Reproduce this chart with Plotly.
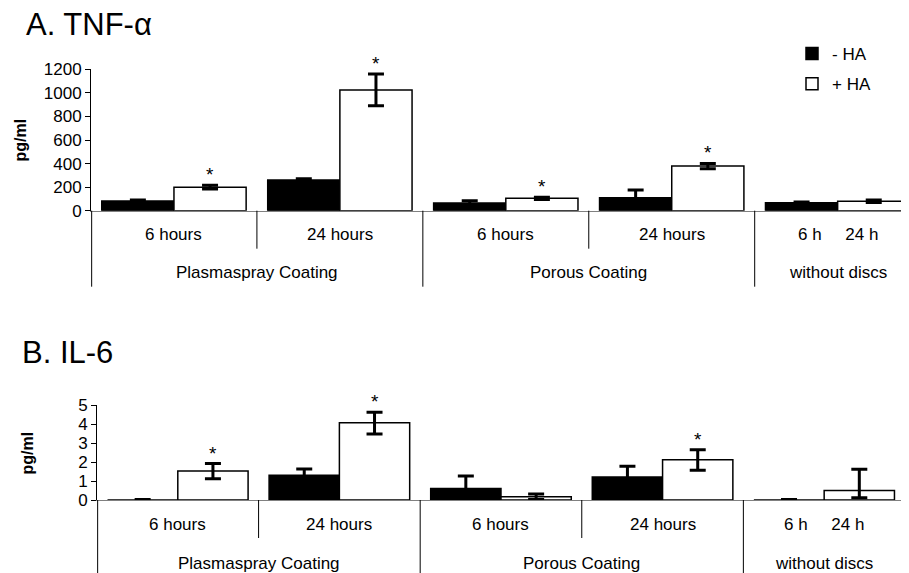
import plotly.graph_objects as go

# ---------------- data ----------------
groups = ["Plasmaspray Coating", "Plasmaspray Coating", "Porous Coating", "Porous Coating", "without discs"]
inner_labels = ["6 hours", "24 hours", "6 hours", "24 hours", "6 h\u00a0\u00a0\u00a0\u00a0\u00a024 h"]

tnf_minus = [82, 260, 65, 110, 68]
tnf_minus_err = [8, 12, 20, 66, 5]
tnf_plus = [200, 1025, 105, 379, 80]
tnf_plus_err = [16, 135, 10, 22, 10]
tnf_sig = [True, True, True, True, False]

il6_minus = [0, 1.3, 0.61, 1.21, 0]
il6_minus_err = [0.02, 0.33, 0.65, 0.56, 0.02]
il6_plus = [1.52, 4.07, 0.17, 2.12, 0.5]
il6_plus_err = [0.4, 0.55, 0.15, 0.52, 1.12]
il6_plus_err_minus = [0.4, 0.6, 0.15, 0.55, 0.38]
il6_sig = [True, True, False, True, False]

tnf_ticks = [0, 200, 400, 600, 800, 1000, 1200]
il6_ticks = [0, 1, 2, 3, 4, 5]

series_names = ["- HA", "+ HA"]
# ---------------------------------------

FONT = "Liberation Sans, Arial, sans-serif"
WIN_W, WIN_H = 909, 573
PAGE_OFF = 8                      # default body margin of the html page
W, H = WIN_W - PAGE_OFF, WIN_H - PAGE_OFF
BARGAP = 0.13
xs = list(range(len(groups)))


def px(x):   # window pixel -> paper x
    return (x - PAGE_OFF) / W


def py(y):   # window pixel -> paper y
    return 1 - (y - PAGE_OFF) / H


fig = go.Figure()


def add_panel(xa, ya, minus, minus_err, plus, plus_err, plus_err_minus, showlegend):
    fig.add_trace(go.Bar(
        x=xs, y=minus, name=series_names[0], xaxis=xa, yaxis=ya,
        marker=dict(color="black", line=dict(color="black", width=1.5)),
        error_y=dict(type="data", array=minus_err, color="black", thickness=3, width=8),
        showlegend=showlegend, legendgroup="m",
    ))
    fig.add_trace(go.Bar(
        x=xs, y=plus, name=series_names[1], xaxis=xa, yaxis=ya,
        marker=dict(color="white", line=dict(color="black", width=1.5)),
        error_y=dict(type="data", array=plus_err, arrayminus=plus_err_minus,
                     color="black", thickness=3, width=8),
        showlegend=showlegend, legendgroup="p",
    ))


add_panel("x", "y", tnf_minus, tnf_minus_err, tnf_plus, tnf_plus_err, tnf_plus_err, True)
add_panel("x2", "y2", il6_minus, il6_minus_err, il6_plus, il6_plus_err, il6_plus_err_minus, False)

annotations = []
shapes = []


def category_decor(xref, yref_dom, outer_len, inner_len, outer_label_shift):
    for i, lab in enumerate(inner_labels):
        annotations.append(dict(x=i, y=0, xref=xref, yref=yref_dom, yshift=-24,
                                text=lab, showarrow=False, xanchor="center", yanchor="middle",
                                font=dict(family=FONT, size=17, color="black")))
    spans = []
    start = 0
    for i in range(1, len(groups) + 1):
        if i == len(groups) or groups[i] != groups[start]:
            spans.append((groups[start], start, i - 1))
            start = i
    for name, s, e in spans:
        annotations.append(dict(x=(s + e) / 2, y=0, xref=xref, yref=yref_dom,
                                yshift=-outer_label_shift, text=name, showarrow=False,
                                xanchor="center", yanchor="middle",
                                font=dict(family=FONT, size=17, color="black")))
        for b in range(s, e):
            shapes.append(dict(type="line", xref=xref, yref=yref_dom, ysizemode="pixel",
                               yanchor=0, x0=b + 0.5, x1=b + 0.5, y0=0, y1=-inner_len,
                               line=dict(color="black", width=1)))
    bounds = [s - 0.5 for _, s, _ in spans] + [spans[-1][2] + 0.5]
    for k, bx in enumerate(bounds):
        if k == 0:
            bx += 0.004
        if k == len(bounds) - 1:
            bx -= 0.004
        shapes.append(dict(type="line", xref=xref, yref=yref_dom, ysizemode="pixel",
                           yanchor=0, x0=bx, x1=bx, y0=0, y1=-outer_len,
                           line=dict(color="black", width=1)))


category_decor("x", "y domain", 76, 38, 62)
category_decor("x2", "y2 domain", 80, 38, 63)

off = (1 - BARGAP) / 4
for xref, yref, vals, errs, sig in [("x", "y", tnf_plus, tnf_plus_err, tnf_sig),
                                     ("x2", "y2", il6_plus, il6_plus_err, il6_sig)]:
    for i, (v, e, s) in enumerate(zip(vals, errs, sig)):
        if s:
            annotations.append(dict(x=i + off, y=v + e, xref=xref, yref=yref,
                                    text="*", showarrow=False, xanchor="center",
                                    yanchor="bottom", yshift=-2,
                                    font=dict(family=FONT, size=19, color="black")))

annotations.append(dict(x=px(24), y=py(25), xref="paper", yref="paper", text="A. TNF-\u03b1",
                        showarrow=False, xanchor="left", yanchor="middle",
                        font=dict(family=FONT, size=31, color="black")))
annotations.append(dict(x=px(20), y=py(352), xref="paper", yref="paper", text="B. IL-6",
                        showarrow=False, xanchor="left", yanchor="middle",
                        font=dict(family=FONT, size=31, color="black")))
annotations.append(dict(x=px(19.5), y=py(140), xref="paper", yref="paper", text="<b>pg/ml</b>",
                        showarrow=False, textangle=-90, xanchor="center", yanchor="middle",
                        font=dict(family=FONT, size=16, color="black")))
annotations.append(dict(x=px(26.5), y=py(453), xref="paper", yref="paper", text="<b>pg/ml</b>",
                        showarrow=False, textangle=-90, xanchor="center", yanchor="middle",
                        font=dict(family=FONT, size=16, color="black")))

xcommon = dict(showgrid=False, zeroline=False, showticklabels=False, ticks="",
               showline=True, linecolor="#808080", linewidth=1, fixedrange=True,
               automargin=False)
ycommon = dict(showgrid=False, zeroline=False, showline=True, linecolor="black", linewidth=1,
               ticks="outside", ticklen=5, tickcolor="black", automargin=False,
               tickfont=dict(family=FONT, size=17, color="black"), fixedrange=True)

fig.update_layout(
    template="none",
    width=W, height=H, autosize=False,
    margin=dict(l=0, r=0, t=0, b=0, pad=0, autoexpand=False),
    paper_bgcolor="white", plot_bgcolor="white",
    barmode="group", bargap=BARGAP, bargroupgap=0,
    xaxis=dict(domain=[px(91), 1.0], range=[-0.5, 4.43], anchor="y", **xcommon),
    yaxis=dict(domain=[py(210.7), py(69.3)], range=[0, 1200], tickvals=tnf_ticks,
               anchor="x", **ycommon),
    xaxis2=dict(domain=[px(97), 1.0], range=[-0.5, 4.525], anchor="y2", **xcommon),
    yaxis2=dict(domain=[py(500), py(405)], range=[0, 5], tickvals=il6_ticks,
                anchor="x2", **ycommon),
    legend=dict(x=px(792), y=py(36), xanchor="left", yanchor="top",
                traceorder="grouped", tracegroupgap=5,
                font=dict(family=FONT, size=17, color="black"),
                bgcolor="rgba(0,0,0,0)", borderwidth=0),
    annotations=annotations,
    shapes=shapes,
    showlegend=True,
)

fig.write_html("out.html")
